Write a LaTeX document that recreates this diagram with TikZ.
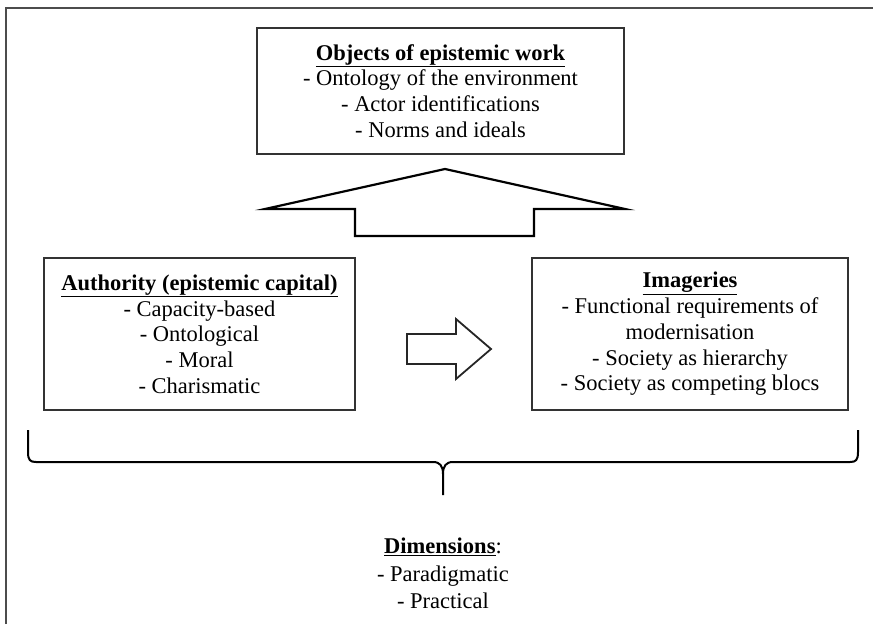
\documentclass[tikz,border=0pt]{standalone}
\usepackage{fontspec}
\setmainfont{Liberation Serif}
\begin{document}
\begin{tikzpicture}[x=1pt,y=-1pt,
  box/.style={draw=black!80,line width=1.6pt,align=center,inner sep=0pt,
    font=\fontsize{22.5}{25.7}\selectfont},
  bigarrow/.style={draw=black,line width=2.2pt,line join=miter,fill=white},
  smallarrow/.style={draw=black!85,line width=1.8pt,line join=miter,fill=white},
  brace/.style={draw=black,line width=2pt},
  frame/.style={draw=black!70,line width=1.2pt},
  txt/.style={align=center,inner sep=0pt,font=\fontsize{22.5}{27.5}\selectfont}]
\useasboundingbox (0,0) rectangle (873,624);
% frame
\draw[frame] (6,624) -- (6,8) -- (873,8);
% boxes
\node[box,minimum width=367pt,minimum height=126pt] (obj) at (440.5,91)
  {\textbf{\underline{Objects of epistemic work}}\\- Ontology of the environment\\- Actor identifications\\- Norms and ideals};
\node[box,minimum width=311pt,minimum height=152pt] (auth) at (199.5,334)
  {\textbf{\underline{Authority (epistemic capital)}}\\- Capacity-based\\- Ontological\\- Moral\\- Charismatic};
\node[box,minimum width=316pt,minimum height=152pt] (img) at (690,334)
  {\textbf{\underline{Imageries}}\\- Functional requirements of\\modernisation\\- Society as hierarchy\\- Society as competing blocs};
% big up arrow
\draw[bigarrow] (445,169) -- (625,209) -- (534,209) -- (534,236) -- (355,236) -- (355,209) -- (265,209) -- cycle;
% small right arrow
\draw[smallarrow] (407,334) -- (456,334) -- (456,319) -- (491,349) -- (456,379) -- (456,364) -- (407,364) -- cycle;
% brace
\draw[brace] (28,430) -- (28,452) .. controls (28,460) and (30,462) .. (36,462)
  -- (433,462) .. controls (440,462) and (443,466) .. (443,474) -- (443,495);
\draw[brace] (858,430) -- (858,452) .. controls (858,460) and (856,462) .. (850,462)
  -- (453,462) .. controls (446,462) and (443,466) .. (443,474);
% dimensions
\node[txt,anchor=north] (dim) at (443,538)
  {\textbf{\underline{Dimensions}}:\\- Paradigmatic\\- Practical};
\end{tikzpicture}
\end{document}
